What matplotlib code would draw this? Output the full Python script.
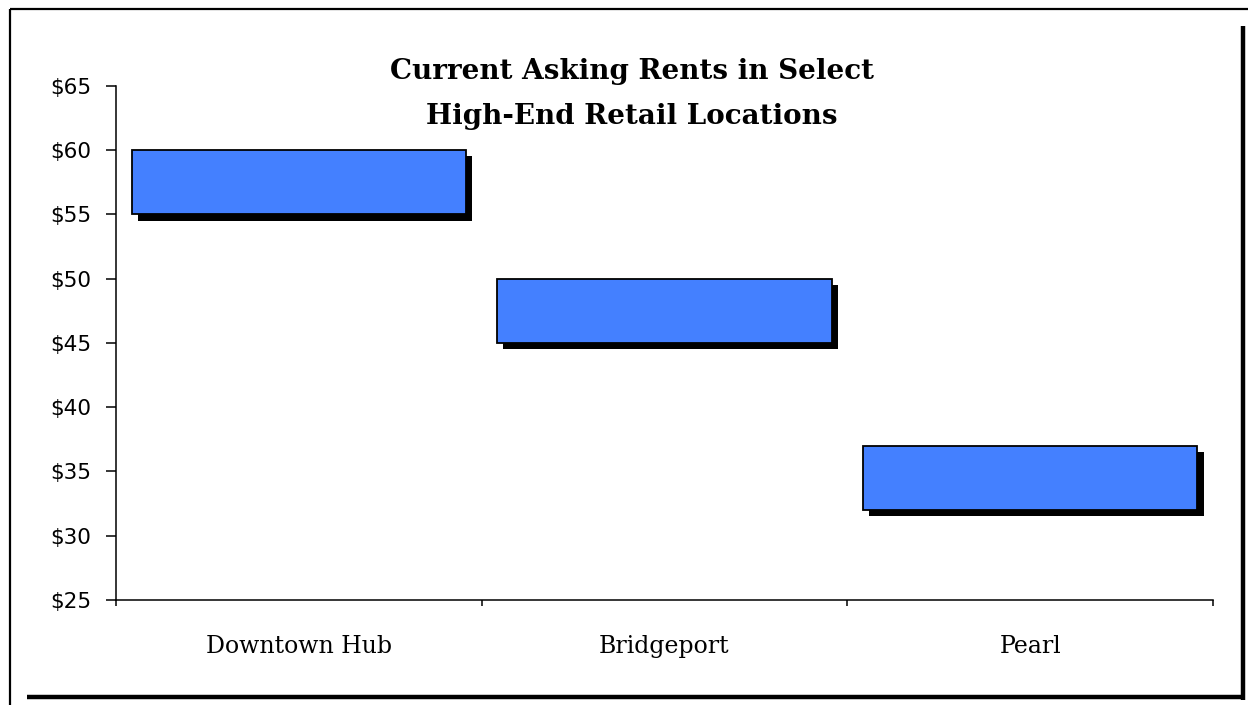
import matplotlib
matplotlib.use("Agg")
import matplotlib.pyplot as plt
import matplotlib.patheffects as pe
from matplotlib.lines import Line2D
from matplotlib.ticker import FixedLocator, NullFormatter

# Asking rent ranges ($ per sq ft) for each retail location
locations = ["Downtown Hub", "Bridgeport", "Pearl"]
rent_low = [55, 45, 32]
rent_high = [60, 50, 37]
y_ticks = [25, 30, 35, 40, 45, 50, 55, 60, 65]
y_tick_labels = [f"${v}" for v in y_ticks]
title_text = "Current Asking Rents in Select\nHigh-End Retail Locations"

W, H, DPI = 1248, 705, 100
fig = plt.figure(figsize=(W / DPI, H / DPI), dpi=DPI)
fig.patch.set_facecolor("white")

ax = fig.add_axes([116 / W, 1 - 600 / H, (1213 - 116) / W, (600 - 86) / H])

positions = [i + 0.5 for i in range(len(locations))]
heights = [h - l for l, h in zip(rent_low, rent_high)]
bars = ax.bar(positions, heights, bottom=rent_low, width=0.915,
              color="#4480FF", edgecolor="black", linewidth=1.3, zorder=3)
for b in bars:
    b.set_path_effects([pe.SimplePatchShadow(offset=(4.5, -4.5),
                                             shadow_rgbFace="black", alpha=1.0),
                        pe.Normal()])

ax.set_xlim(0, len(locations))
ax.set_ylim(y_ticks[0], y_ticks[-1])
ax.set_yticks(y_ticks)
ax.set_yticklabels(y_tick_labels, fontsize=15.5, family="DejaVu Sans")
ax.tick_params(axis="y", direction="out", length=7.5, width=1.1, pad=10.5, colors="black")

# Boundary ticks between categories, labels at category centres
ax.xaxis.set_major_locator(FixedLocator(range(len(locations) + 1)))
ax.xaxis.set_major_formatter(NullFormatter())
ax.xaxis.set_minor_locator(FixedLocator(positions))
ax.set_xticklabels(locations, minor=True, fontsize=17, family="DejaVu Serif")
ax.tick_params(axis="x", which="major", direction="out", length=4.5, width=1.1)
ax.tick_params(axis="x", which="minor", length=0, pad=25)

for side in ("top", "right"):
    ax.spines[side].set_visible(False)
for side in ("left", "bottom"):
    ax.spines[side].set_linewidth(1.1)
ax.set_facecolor("white")

fig.text(632 / W, 1 - 94 / H, title_text, ha="center", va="center",
         fontsize=20, fontweight="bold", family="DejaVu Serif",
         linespacing=1.85)

# Outer frame with heavy right/bottom edges
def px_line(x0, y0, x1, y1, lw):
    fig.add_artist(Line2D([x0 / W, x1 / W], [1 - y0 / H, 1 - y1 / H],
                          transform=fig.transFigure, color="black",
                          linewidth=lw, solid_capstyle="butt"))

px_line(10, 9, W, 9, 1.6)
px_line(10, 9, 10, H, 1.6)
px_line(1243, 26, 1243, 700, 3.2)
px_line(27, 697, 1245, 697, 3.2)

fig.savefig("out.png", dpi=DPI, facecolor="white")
